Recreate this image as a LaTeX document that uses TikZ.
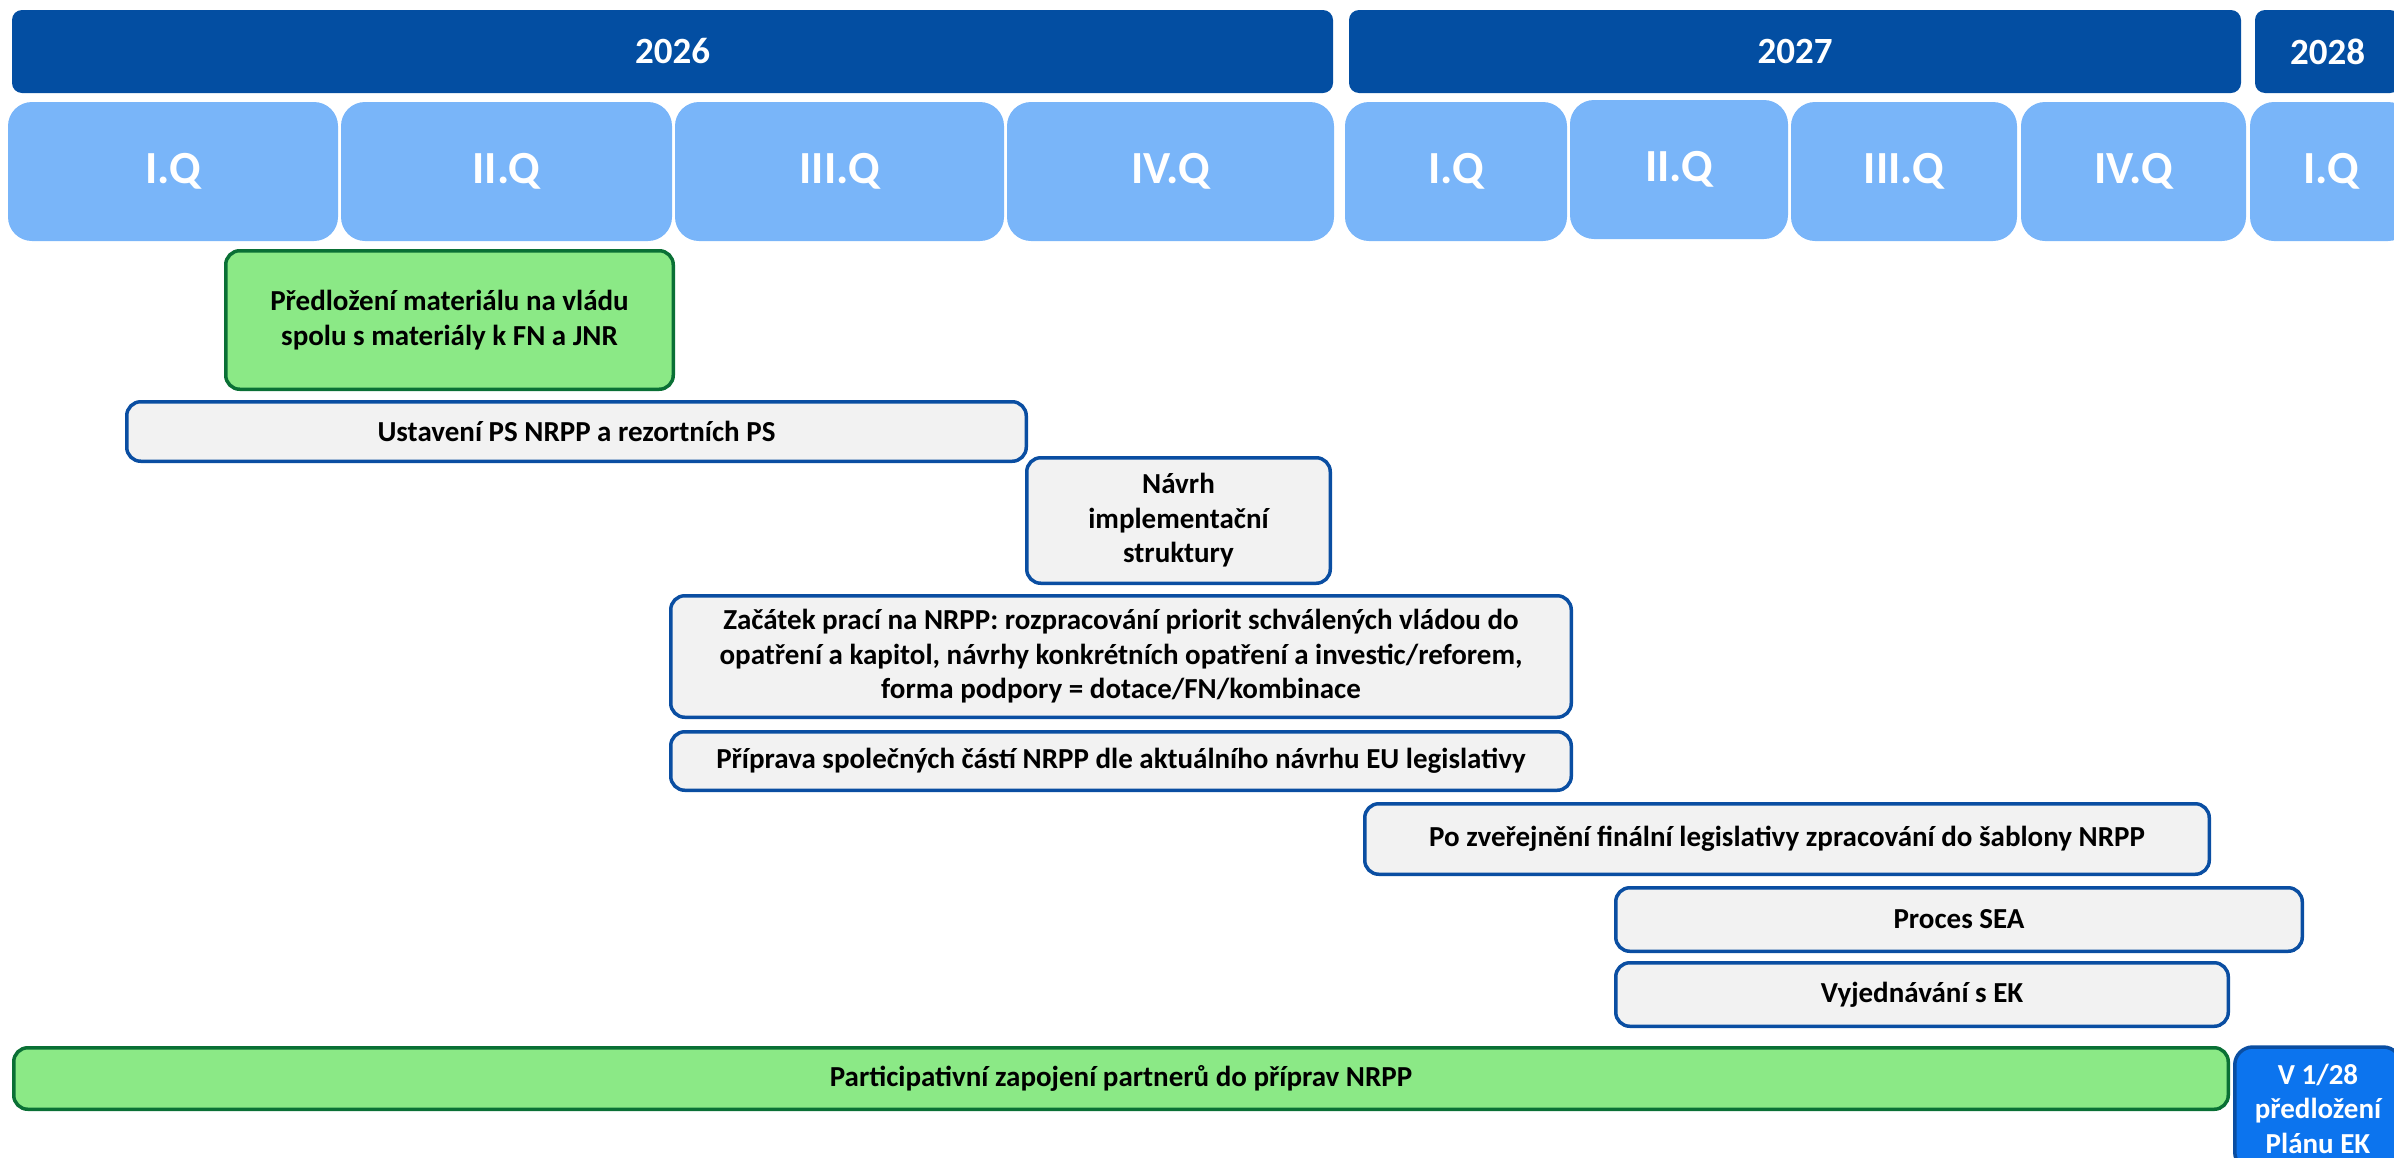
\documentclass[tikz,border=0pt]{standalone}
\usepackage{fontspec}
\setmainfont{Carlito}
\usepackage{xcolor}

\definecolor{yearblue}{HTML}{034EA2}
\definecolor{quarterblue}{HTML}{79B5F9}
\definecolor{taskedge}{HTML}{0A4EA2}
\definecolor{taskgrey}{HTML}{F2F2F2}
\definecolor{greenfill}{HTML}{8BE986}
\definecolor{greenedge}{HTML}{0A7035}
\definecolor{ekblue}{HTML}{0C74EE}

\tikzset{
	yearbar/.style={fill=yearblue, rounded corners=10pt, inner sep=0pt, text=white,
		font=\bfseries\fontsize{37}{44}\selectfont},
	quarter/.style={fill=quarterblue, rounded corners=24pt, inner sep=0pt, text=white,
		font=\bfseries\fontsize{46}{55}\selectfont},
	task/.style={draw=taskedge, line width=3.5pt, fill=taskgrey, rounded corners=14pt,
		inner sep=0pt, align=center, font=\bfseries\fontsize{29}{34.5}\selectfont},
	greentask/.style={task, draw=greenedge, fill=greenfill},
	ektask/.style={task, fill=ekblue, text=white, rounded corners=18pt},
}

\begin{document}
\begin{tikzpicture}[x=1pt, y=-1pt]
	\useasboundingbox (0,0) rectangle (2394,1157);
	\clip (0,0) rectangle (2394,1157);
	
	% years
	\node[yearbar, minimum width=1321pt, minimum height=83pt] (y2026) at (672.5,51.5) {2026};
	\node[yearbar, minimum width=892pt, minimum height=83pt] (y2027) at (1795,51.5) {2027};
	\node[yearbar, minimum width=145pt, minimum height=83pt] (y2028) at (2327.5,51.5) {2028};
	
	% quarters
	\node[quarter, minimum width=330pt, minimum height=139pt] (q1) at (173,171.5) {I.Q};
	\node[quarter, minimum width=331pt, minimum height=139pt] (q2) at (506.5,171.5) {II.Q};
	\node[quarter, minimum width=329pt, minimum height=139pt] (q3) at (839.5,171.5) {III.Q};
	\node[quarter, minimum width=327pt, minimum height=139pt] (q4) at (1170.5,171.5) {IV.Q};
	\node[quarter, minimum width=222pt, minimum height=139pt] (q5) at (1456,171.5) {I.Q};
	\node[quarter, minimum width=218pt, minimum height=139pt] (q6) at (1679,169.5) {II.Q};
	\node[quarter, minimum width=226pt, minimum height=139pt] (q7) at (1904,171.5) {III.Q};
	\node[quarter, minimum width=225pt, minimum height=139pt] (q8) at (2133.5,171.5) {IV.Q};
	\node[quarter, minimum width=162pt, minimum height=139pt] (q9) at (2331,171.5) {I.Q};
	
	% tasks
	\node[greentask, minimum width=447.5pt, minimum height=138.5pt] (predlozeni) at (449.5,320)
		{Předložení materiálu na vládu\\spolu s materiály k FN a JNR};
	\node[task, minimum width=899.5pt, minimum height=59.5pt] (ustaveni) at (576.5,431.5)
		{Ustavení PS NRPP a rezortních PS};
	\node[task, minimum width=303.5pt, minimum height=125.5pt] (navrh) at (1178.5,520.5)
		{Návrh\\implementační\\struktury};
	\node[task, minimum width=900.5pt, minimum height=121.5pt] (zacatek) at (1121,656.5)
		{Začátek prací na NRPP: rozpracování priorit schválených vládou do\\
		 opatření a kapitol, návrhy konkrétních opatření a investic/reforem,\\
		 forma podpory = dotace/FN/kombinace};
	\node[task, minimum width=900.5pt, minimum height=58.5pt] (priprava) at (1121,761)
		{Příprava společných částí NRPP dle aktuálního návrhu EU legislativy};
	\node[task, minimum width=844.5pt, minimum height=70.5pt] (zverejneni) at (1787,839)
		{Po zveřejnění finální legislativy zpracování do šablony NRPP};
	\node[task, minimum width=686.5pt, minimum height=63.5pt] (sea) at (1959,919.5)
		{Proces SEA};
	\node[task, minimum width=612.5pt, minimum height=63.5pt] (vyjednavani) at (1922,994.5)
		{Vyjednávání s EK};
	\node[greentask, minimum width=2214.5pt, minimum height=61.5pt] (partneri) at (1121,1078.5)
		{Participativní zapojení partnerů do příprav NRPP};
	\node[ektask, minimum width=166.5pt, minimum height=123pt] (planek) at (2318,1108.5)
		{V 1/28\\předložení\\Plánu EK};
\end{tikzpicture}
\end{document}
